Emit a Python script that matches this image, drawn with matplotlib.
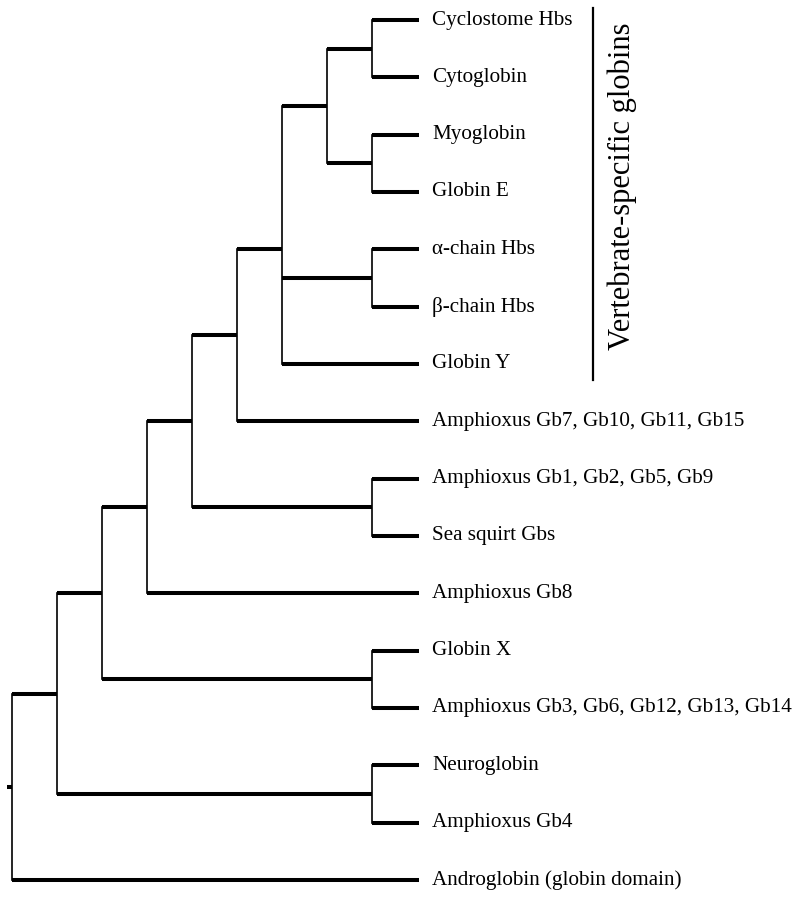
import matplotlib.pyplot as plt

# leaf labels, top to bottom
leaves = [
    'Cyclostome Hbs',
    'Cytoglobin',
    'Myoglobin',
    'Globin E',
    '\u03b1-chain Hbs',
    '\u03b2-chain Hbs',
    'Globin Y',
    'Amphioxus Gb7, Gb10, Gb11, Gb15',
    'Amphioxus Gb1, Gb2, Gb5, Gb9',
    'Sea squirt Gbs',
    'Amphioxus Gb8',
    'Globin X',
    'Amphioxus Gb3, Gb6, Gb12, Gb13, Gb14',
    'Neuroglobin',
    'Amphioxus Gb4',
    'Androglobin (globin domain)',
]

# topology as nested lists of leaf indices
tree = [
    [
        [
            [
                [
                    [
                        [[[0, 1], [2, 3]], [4, 5], 6],
                        7,
                    ],
                    [8, 9],
                ],
                10,
            ],
            [11, 12],
        ],
        [13, 14],
    ],
    15,
]

clade_label = 'Vertebrate-specific globins'
clade_span = (0, 6)

TIP = 9.05
HW = 2.9   # horizontal branch width
VW = 1.2   # vertical branch width


def height(node):
    if isinstance(node, int):
        return 0
    return 1 + max(height(c) for c in node)


MAXH = height(tree)


def draw(ax, node):
    """draw a clade, return (x, y) of its node"""
    if isinstance(node, int):
        return TIP, node
    x = MAXH - height(node)
    pts = [draw(ax, c) for c in node]
    ys = [p[1] for p in pts]
    for cx, cy in pts:
        ax.plot([x, cx], [cy, cy], color='black', lw=HW, solid_capstyle='butt')
    ax.plot([x, x], [min(ys), max(ys)], color='black', lw=VW, solid_capstyle='projecting')
    return x, sum(ys) / len(ys)


fig = plt.figure(figsize=(8, 9), dpi=100)
ax = fig.add_axes([0, 0, 1, 1])
ax.set_xlim(-12 / 45, 788 / 45)
ax.set_ylim(15.35, -0.349)
ax.axis('off')

rx, ry = draw(ax, tree)
ax.plot([rx - 0.1, rx], [ry, ry], color='black', lw=HW, solid_capstyle='butt')

for i, name in enumerate(leaves):
    ax.text(TIP + 0.29, i, name, ha='left', va='center',
            family='Liberation Serif', fontsize=15.2)

# clade bar
bx = (593 - 12) / 45
ax.plot([bx, bx], [clade_span[0] - 0.21, clade_span[1] + 0.28], color='black', lw=1.6)
ax.text(bx + 0.64, (clade_span[0] + clade_span[1]) / 2 - 0.1, clade_label, rotation=90,
        ha='center', va='center', family='Liberation Serif', fontsize=22)

fig.savefig('out.png', dpi=100)
